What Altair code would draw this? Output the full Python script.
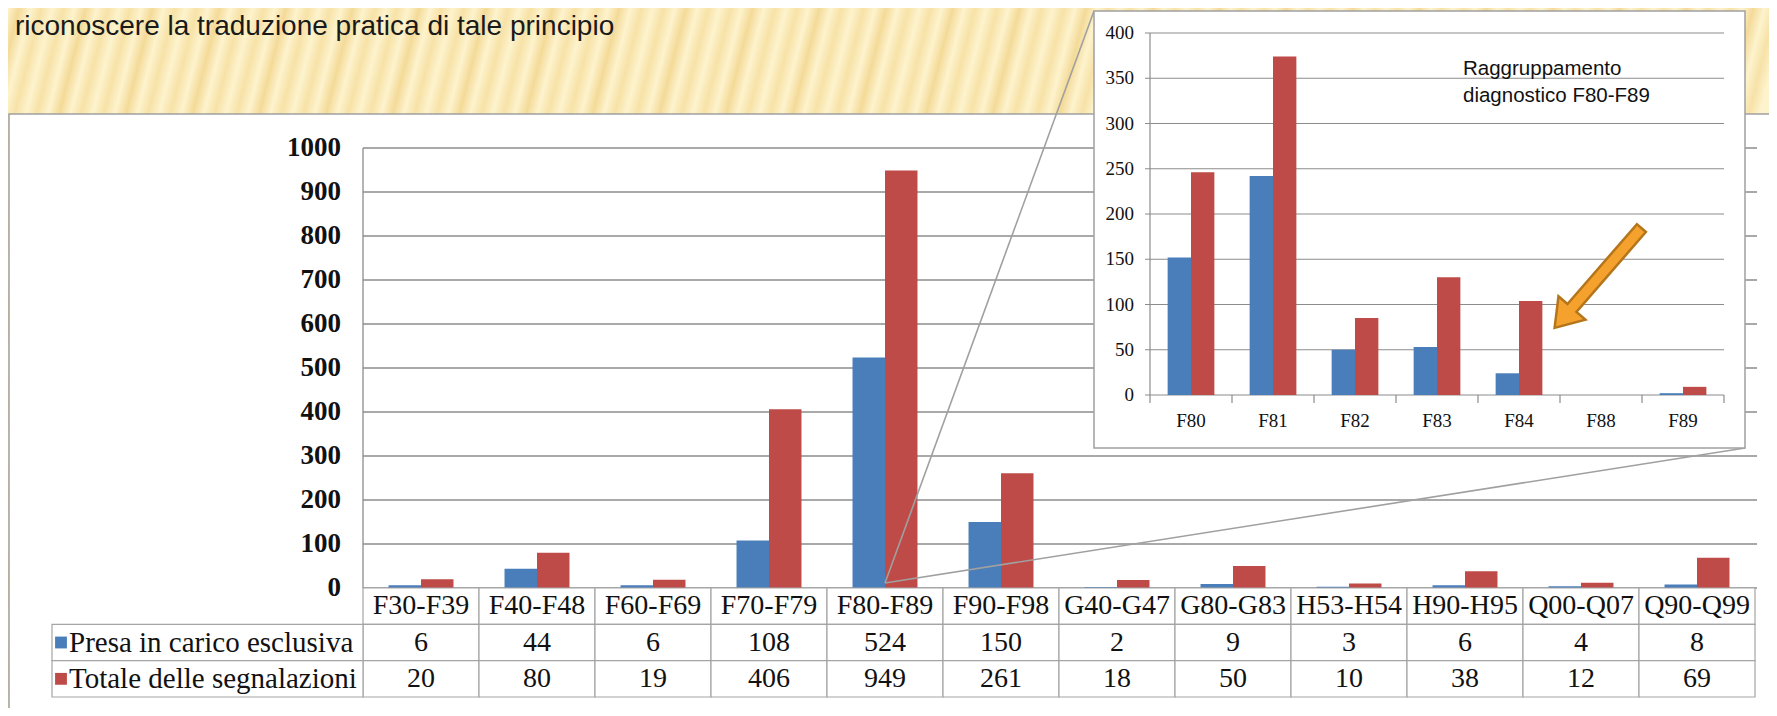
import altair as alt
import pandas as pd

# ---------------- data ----------------
categories = ["F30-F39", "F40-F48", "F60-F69", "F70-F79", "F80-F89", "F90-F98",
              "G40-G47", "G80-G83", "H53-H54", "H90-H95", "Q00-Q07", "Q90-Q99"]
presa = [6, 44, 6, 108, 524, 150, 2, 9, 3, 6, 4, 8]
totale = [20, 80, 19, 406, 949, 261, 18, 50, 10, 38, 12, 69]
series_names = ["Presa in carico esclusiva", "Totale delle segnalazioni"]
main_ticks = [0, 100, 200, 300, 400, 500, 600, 700, 800, 900, 1000]

inset_categories = ["F80", "F81", "F82", "F83", "F84", "F88", "F89"]
inset_presa = [152, 242, 50, 53, 24, 0, 2]
inset_totale = [246, 374, 85, 130, 104, 0, 9]
inset_ticks = [0, 50, 100, 150, 200, 250, 300, 350, 400]

title_text = "riconoscere la traduzione pratica di tale principio"
annotation_text = "Raggruppamento\ndiagnostico F80-F89"

# ---------------- tables ----------------
bars = pd.DataFrame(
    [{"cat": c, "series": series_names[0], "value": v} for c, v in zip(categories, presa)]
    + [{"cat": c, "series": series_names[1], "value": v} for c, v in zip(categories, totale)]
)
inset_bars = pd.DataFrame(
    [{"cat": c, "series": series_names[0], "value": v} for c, v in zip(inset_categories, inset_presa)]
    + [{"cat": c, "series": series_names[1], "value": v} for c, v in zip(inset_categories, inset_totale)]
)
cells = pd.DataFrame([{"cat": c, "row": r} for c in categories for r in ["hdr", "r1", "r2"]])
cell_text = pd.DataFrame(
    [{"cat": c, "row": "hdr", "label": c} for c in categories]
    + [{"cat": c, "row": "r1", "label": str(v)} for c, v in zip(categories, presa)]
    + [{"cat": c, "row": "r2", "label": str(v)} for c, v in zip(categories, totale)]
)
legend_rows = pd.DataFrame({"row": ["r1", "r2"], "series": series_names})
main_tick_df = pd.DataFrame({"v": main_ticks})
inset_tick_df = pd.DataFrame({"v": inset_ticks})
inset_cat_df = pd.DataFrame({"cat": inset_categories})
one = pd.DataFrame({"k": [0]})

# ---------------- scales ----------------
BLUE, RED = "#4A7EBB", "#BE4B48"
GRID = "#8C8C8C"
X_MAIN = alt.Scale(domain=categories, range=[355, 1747], paddingInner=0.44, paddingOuter=0.22)
X_TAB = alt.Scale(domain=categories, range=[355, 1747], paddingInner=0, paddingOuter=0)
Y_MAIN = alt.Scale(domain=[0, 1000], range=[580, 140], nice=False)
ROW = alt.Scale(domain=["hdr", "r1", "r2"], range=[580, 689], paddingInner=0, paddingOuter=0)
COLOR = alt.Scale(domain=series_names, range=[BLUE, RED])
X_IN = alt.Scale(domain=inset_categories, range=[1142, 1716], paddingInner=0.43, paddingOuter=0.215)
X_IN_T = alt.Scale(domain=inset_categories, range=[1142, 1716], paddingInner=0, paddingOuter=0)
Y_IN = alt.Scale(domain=[0, 400], range=[387, 25], nice=False)

SERIF = "Liberation Serif"
SANS = "Liberation Sans"

# ---------------- background ----------------
stops = []
n_per = 80
for k in range(n_per):
    stops.append(alt.GradientStop(color="#FDF3CD", offset=k / n_per))
    stops.append(alt.GradientStop(color="#F7E2A7" if k % 3 else "#F4DA98", offset=(k + 0.5) / n_per))
stops.append(alt.GradientStop(color="#FDF3CD", offset=1.0))
bg = alt.Chart(one).mark_rect(
    fill=alt.LinearGradient(gradient="linear", stops=stops, x1=0, y1=0, x2=1, y2=0.1)
).encode(x=alt.value(0), x2=alt.value(1761), y=alt.value(0), y2=alt.value(700))

title = alt.Chart(one).mark_text(
    text=title_text, align="left", baseline="top", font=SANS, fontSize=28, color="#1A1A1A"
).encode(x=alt.value(7), y=alt.value(5))

# ---------------- main chart ----------------
main_box = alt.Chart(one).mark_rect(fill="white", stroke="#A0A0A0", strokeWidth=1.5).encode(
    x=alt.value(1), x2=alt.value(1762), y=alt.value(106), y2=alt.value(704))

main_grid = alt.Chart(main_tick_df).mark_rule(color=GRID, strokeWidth=1.3).encode(
    y=alt.Y("v:Q", scale=Y_MAIN, axis=None), x=alt.value(355), x2=alt.value(1749))

main_labels = alt.Chart(main_tick_df).mark_text(
    align="right", baseline="middle", font=SERIF, fontSize=27, fontWeight="bold", color="#111111"
).encode(y=alt.Y("v:Q", scale=Y_MAIN, axis=None), x=alt.value(333), text="v:Q")

main_axis = alt.Chart(one).mark_rule(color=GRID, strokeWidth=1.3).encode(
    x=alt.value(355), y=alt.value(140), y2=alt.value(580))

main_bars = alt.Chart(bars).mark_bar().encode(
    x=alt.X("cat:N", scale=X_MAIN, axis=None),
    xOffset=alt.XOffset("series:N", scale=alt.Scale(domain=series_names)),
    y=alt.Y("value:Q", scale=Y_MAIN, axis=None),
    color=alt.Color("series:N", scale=COLOR, legend=None),
)

table_cells = alt.Chart(cells).mark_rect(fill="white", stroke="#A5A5A5", strokeWidth=1.2).encode(
    x=alt.X("cat:N", scale=X_TAB, axis=None), y=alt.Y("row:N", scale=ROW, axis=None))

legend_cells = alt.Chart(legend_rows).mark_rect(fill="white", stroke="#A5A5A5", strokeWidth=1.2).encode(
    x=alt.value(44), x2=alt.value(355), y=alt.Y("row:N", scale=ROW, axis=None))

table_text = alt.Chart(cell_text).mark_text(
    font=SERIF, fontSize=28, baseline="middle", align="center", color="#111111"
).encode(x=alt.X("cat:N", scale=X_TAB, axis=None), y=alt.Y("row:N", scale=ROW, axis=None), text="label:N")

legend_keys = alt.Chart(legend_rows).mark_square(size=140, opacity=1).encode(
    x=alt.value(53), y=alt.Y("row:N", scale=ROW, axis=None),
    color=alt.Color("series:N", scale=COLOR, legend=None))

legend_text = alt.Chart(legend_rows).mark_text(
    font=SERIF, fontSize=29, baseline="middle", align="left", color="#111111"
).encode(x=alt.value(61), y=alt.Y("row:N", scale=ROW, axis=None), text="series:N")

# ---------------- zoom connectors ----------------
conn1 = alt.Chart(one).mark_rule(color="#A0A0A0", strokeWidth=1.6).encode(
    x=alt.value(877), y=alt.value(575), x2=alt.value(1086), y2=alt.value(3))
conn2 = alt.Chart(one).mark_rule(color="#A0A0A0", strokeWidth=1.6).encode(
    x=alt.value(877), y=alt.value(575), x2=alt.value(1737), y2=alt.value(440))

# ---------------- inset ----------------
inset_box = alt.Chart(one).mark_rect(fill="white", stroke="#A0A0A0", strokeWidth=1.5).encode(
    x=alt.value(1086), x2=alt.value(1737), y=alt.value(3), y2=alt.value(440))

inset_grid = alt.Chart(inset_tick_df).mark_rule(color=GRID, strokeWidth=1.2).encode(
    y=alt.Y("v:Q", scale=Y_IN, axis=None), x=alt.value(1137), x2=alt.value(1716))

inset_labels = alt.Chart(inset_tick_df).mark_text(
    align="right", baseline="middle", font=SERIF, fontSize=19, color="#111111"
).encode(y=alt.Y("v:Q", scale=Y_IN, axis=None), x=alt.value(1126), text="v:Q")

inset_axis = alt.Chart(one).mark_rule(color=GRID, strokeWidth=1.2).encode(
    x=alt.value(1142), y=alt.value(25), y2=alt.value(387))

inset_xticks = alt.Chart(inset_cat_df).mark_rule(color=GRID, strokeWidth=1.2).encode(
    x=alt.X("cat:N", scale=X_IN_T, axis=None, bandPosition=0), y=alt.value(387), y2=alt.value(395))
inset_xtick_end = alt.Chart(one).mark_rule(color=GRID, strokeWidth=1.2).encode(
    x=alt.value(1716), y=alt.value(387), y2=alt.value(395))

inset_barmarks = alt.Chart(inset_bars).mark_bar().encode(
    x=alt.X("cat:N", scale=X_IN, axis=None),
    xOffset=alt.XOffset("series:N", scale=alt.Scale(domain=series_names)),
    y=alt.Y("value:Q", scale=Y_IN, axis=None),
    color=alt.Color("series:N", scale=COLOR, legend=None),
)

inset_catlabels = alt.Chart(inset_cat_df).mark_text(
    font=SERIF, fontSize=19, baseline="middle", align="center", color="#111111"
).encode(x=alt.X("cat:N", scale=X_IN_T, axis=None), y=alt.value(413), text="cat:N")

annotation = alt.Chart(one).mark_text(
    text=annotation_text, lineBreak="\n", lineHeight=27, align="left", baseline="middle",
    font=SANS, fontSize=20.5, color="#111111"
).encode(x=alt.value(1455), y=alt.value(61))

ARROW = "M0,-1 L0.27,-0.6 L0.09,-0.6 L0.09,1 L-0.09,1 L-0.09,-0.6 L-0.27,-0.6 Z"
arrow = alt.Chart(one).mark_point(
    shape=ARROW, size=17500, angle=221, filled=True, fill="#F4A12E", stroke="#B5751A",
    strokeWidth=2.5, opacity=1
).encode(x=alt.value(1590), y=alt.value(270))

chart = alt.layer(
    bg, title, main_box, main_grid, main_labels, main_axis, main_bars,
    table_cells, legend_cells, table_text, legend_keys, legend_text,
    conn1, conn2,
    inset_box, inset_grid, inset_labels, inset_axis, inset_barmarks,
    inset_xticks, inset_xtick_end, inset_catlabels, annotation, arrow,
).resolve_scale(
    x="independent", y="independent", xOffset="independent"
).properties(
    width=1761, height=700, autosize=alt.AutoSizeParams(type="none"), padding=0
).configure_view(stroke=None).configure(background="#FBEBC0")

chart.save("out.html", embed_options={"renderer": "svg", "actions": False})
